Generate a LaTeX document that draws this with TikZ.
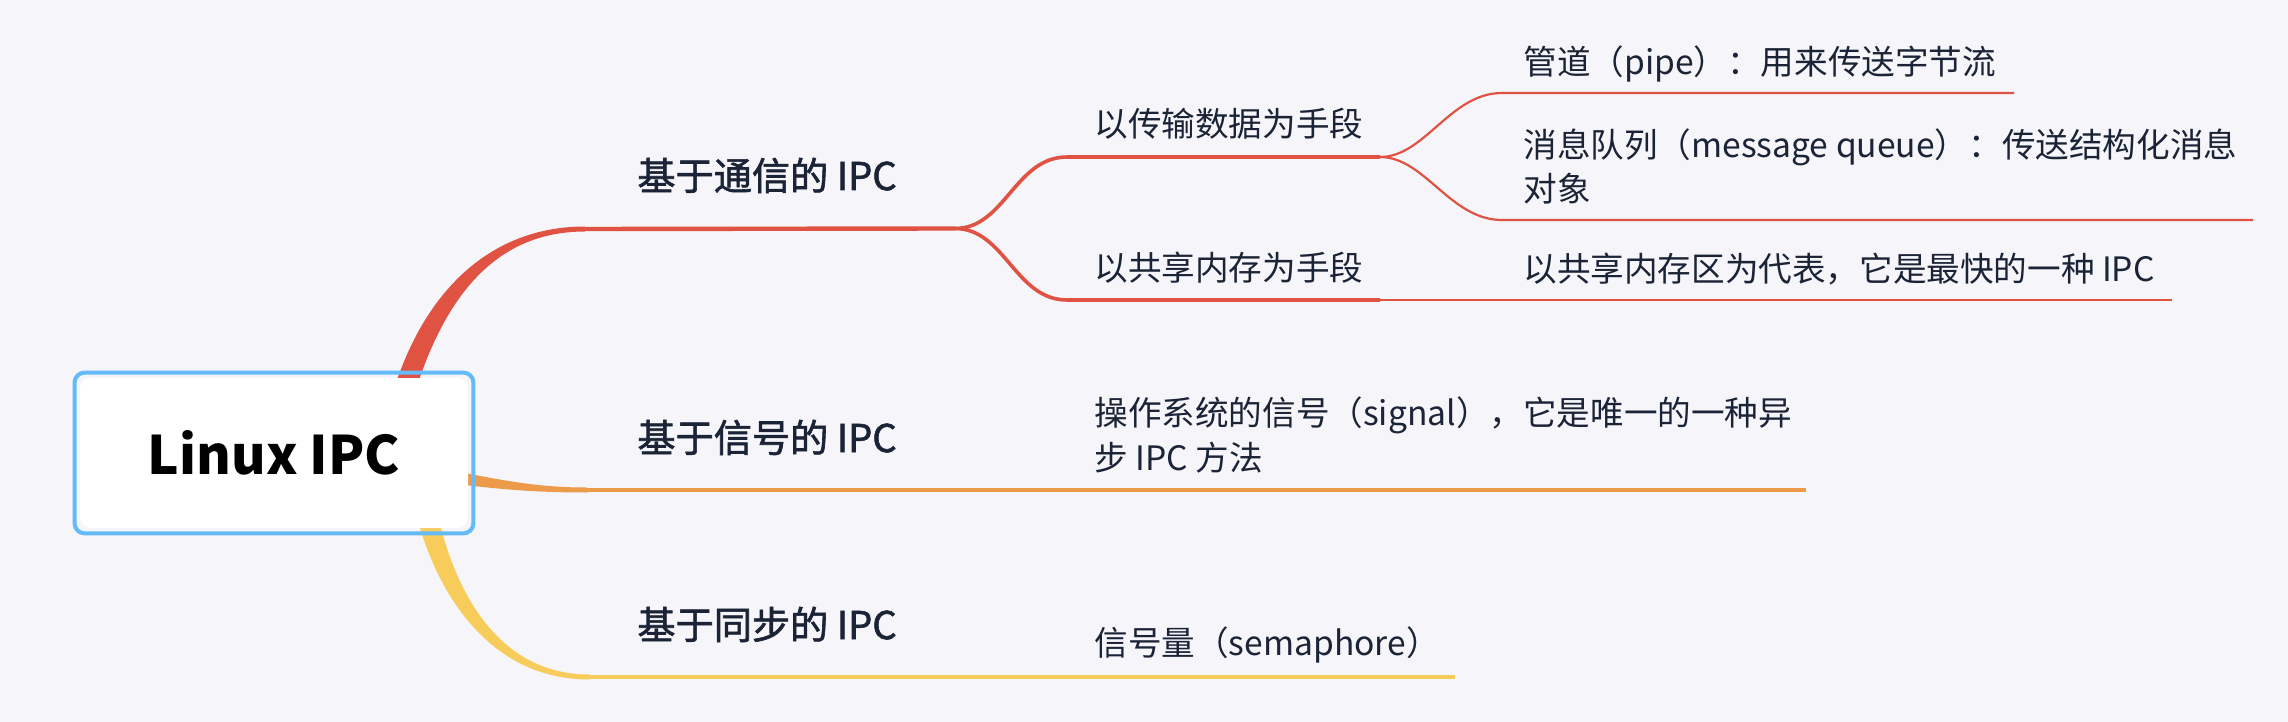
\documentclass[tikz,border=0pt]{standalone}
\usepackage{fontspec}
\setmainfont{Noto Sans CJK SC}
\newfontfamily\medfont{Noto Sans CJK SC}[FakeBold=1.6]
\definecolor{bg}{RGB}{245,245,250}
\definecolor{cred}{RGB}{224,83,67}
\definecolor{corange}{RGB}{237,154,75}
\definecolor{cyellow}{RGB}{247,204,90}
\definecolor{cblue}{RGB}{100,187,247}
\definecolor{ink}{RGB}{27,36,54}
\tikzset{
  lone/.style={line width=2.2pt},
  ltwo/.style={line width=1.8pt},
  lthree/.style={line width=1.1pt},
  tone/.style={anchor=base west, inner sep=0pt, text=ink, font=\medfont\fontsize{19.1pt}{22pt}\selectfont},
  ttwo/.style={anchor=base west, inner sep=0pt, text=ink, font=\fontsize{16.8pt}{22pt}\selectfont},
  rootbox/.style={fill=white, rounded corners=5pt, minimum width=194pt, minimum height=75pt, inner sep=0pt, text=black, font=\fontsize{26.5pt}{30pt}\selectfont\bfseries},
}
\begin{document}
\begin{tikzpicture}[x=0.5pt,y=-0.5pt]
\useasboundingbox (0,0) rectangle (2288,722);
\fill[bg] (0,0) rectangle (2288,722);
% junction coordinates
\coordinate (r1) at (585,229);
\coordinate (j1) at (955,228.5);
\coordinate (u1) at (1067,157);
\coordinate (j2) at (1380,157);
\coordinate (d1) at (1067,300);
\coordinate (j3) at (1380,300);
\coordinate (p1) at (1502,93);
\coordinate (p2) at (2014,93);
\coordinate (q1) at (1502,220);
\coordinate (q2) at (2253,220);
\coordinate (s2) at (2172,300);
\coordinate (o1) at (587,490);
\coordinate (o2) at (955,490);
\coordinate (o3) at (1806,490);
\coordinate (y1) at (589,677);
\coordinate (y2) at (1455,677);
% tapered trunks
\fill[cred] (397,380) .. controls (430,285) and (495,226.5) .. (585,226.5) -- (585,231.5) .. controls (500,231.5) and (450,290) .. (419,380) -- cycle;
\fill[corange] (465,473) .. controls (520,484) and (550,487.5) .. (587,487.5) -- (587,492.5) .. controls (550,492.5) and (515,491) .. (465,485) -- cycle;
\fill[cyellow] (420,528) .. controls (445,610) and (500,679.5) .. (589,679.5) -- (589,674.5) .. controls (508,674.5) and (462,608) .. (441,528) -- cycle;
% red branch
\draw[cred, lone] (r1) -- (j1);
\draw[cred, ltwo] (j1) .. controls (1005,228.5) and (1015,157) .. (u1) -- (j2);
\draw[cred, ltwo] (j1) .. controls (1005,228.5) and (1015,300) .. (d1) -- (j3);
\draw[cred, lthree] (j2) .. controls (1425,157) and (1450,93) .. (p1) -- (p2);
\draw[cred, lthree] (j2) .. controls (1425,157) and (1450,220) .. (q1) -- (q2);
\draw[cred, lthree] (j3) -- (s2);
% orange branch
\draw[corange, lone] (o1) -- (o2);
\draw[corange, lone] (o2) -- (o3);
% yellow branch
\draw[cyellow, lone] (y1) -- (y2);
% root
\node[rootbox] (root) at (274,453) {Linux IPC};
\draw[cblue, line width=2pt, rounded corners=5pt] ([shift={(-5,-5)}]root.north west) rectangle ([shift={(5,5)}]root.south east);
% texts
\node[tone] (n1) at (637,190) {基于通信的 IPC};
\node[tone] (n2) at (637,452) {基于信号的 IPC};
\node[tone] (n3) at (637,639) {基于同步的 IPC};
\node[ttwo] (n11) at (1094,136.5) {以传输数据为手段};
\node[ttwo] (n12) at (1094,280) {以共享内存为手段};
\node[ttwo] (n111) at (1523,74.5) {管道（pipe）：用来传送字节流};
\node[ttwo] (n112) at (1523,158) {消息队列（message queue）：传送结构化消息};
\node[ttwo] (n112b) at (1523,201) {对象};
\node[ttwo] (n121) at (1523,281) {以共享内存区为代表，它是最快的一种 IPC};
\node[ttwo] (n21) at (1094,425) {操作系统的信号（signal），它是唯一的一种异};
\node[ttwo] (n21b) at (1094,470) {步 IPC 方法};
\node[ttwo] (n31) at (1094,655) {信号量（semaphore）};
\end{tikzpicture}
\end{document}
